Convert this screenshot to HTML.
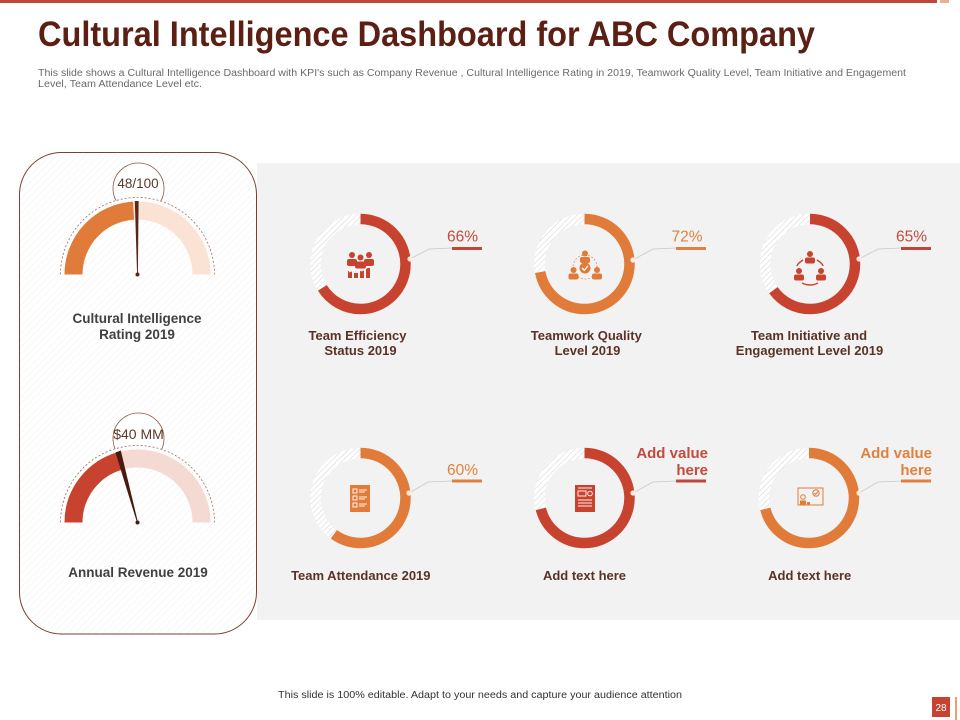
<!DOCTYPE html>
<html><head><meta charset="utf-8"><style>html,body{margin:0;padding:0;background:#fff}svg{display:block}</style></head>
<body>
<svg width="960" height="720" viewBox="0 0 960 720" xmlns="http://www.w3.org/2000/svg" font-family="'Liberation Sans', Arial, sans-serif">
<defs>
<pattern id="h1" width="4" height="4" patternUnits="userSpaceOnUse" patternTransform="rotate(45)"><rect width="4" height="4" fill="#fff"/><line x1="0" y1="0" x2="0" y2="4" stroke="#d2d2d2" stroke-width="1"/></pattern>
<pattern id="h2" width="5" height="5" patternUnits="userSpaceOnUse" patternTransform="rotate(45)"><rect width="5" height="5" fill="#fff"/><line x1="0" y1="0" x2="0" y2="5" stroke="#f1f1f1" stroke-width="1"/></pattern>
</defs>

<!-- top bar -->
<rect x="0" y="0" width="937" height="3" fill="#c0483a"/>
<rect x="940" y="0" width="9" height="3" fill="#eab090"/>

<!-- title -->
<text x="38" y="46" font-size="35" font-weight="bold" fill="#5b1f14" textLength="777" lengthAdjust="spacingAndGlyphs">Cultural Intelligence Dashboard for ABC Company</text>
<text x="38" y="76" font-size="10" fill="#6a6a6a" textLength="868" lengthAdjust="spacingAndGlyphs">This slide shows a Cultural Intelligence Dashboard with KPI's such as Company Revenue , Cultural Intelligence Rating in 2019, Teamwork Quality Level, Team Initiative and Engagement</text>
<text x="38" y="87" font-size="10" fill="#6a6a6a" textLength="164" lengthAdjust="spacingAndGlyphs">Level, Team Attendance Level etc.</text>

<!-- gray panel -->
<rect x="257" y="163" width="703" height="457" fill="#f2f2f2"/>

<!-- left panel -->
<rect x="19.5" y="152.5" width="237" height="481.5" rx="42" ry="42" fill="url(#h2)" stroke="#7a4030" stroke-width="1"/>

<!-- gauge 1 -->
<circle cx="138.5" cy="188.5" r="25.5" fill="#fff" stroke="#8a5a45" stroke-width="0.8"/>
<text x="138" y="188" font-size="13.5" text-anchor="middle" fill="#5a3a2a">48/100</text>
<path d="M60.5 274.5 A77 77 0 0 1 214.5 274.5 Z" fill="url(#h2)"/>
<path d="M60.5 274.5 A77 77 0 0 1 214.5 274.5" fill="none" stroke="#a07060" stroke-width="0.8" stroke-dasharray="2 2"/>
<path d="M73.5 274.5 A64 64 0 0 1 201.5 274.5" fill="none" stroke="#fae2d4" stroke-width="18"/>
<path d="M73.5 274.5 A64 64 0 0 1 133.48 210.63" fill="none" stroke="#e07b39" stroke-width="18"/>
<polygon points="134.8,201 138.6,201 137.9,274.5 137.1,274.5" fill="#5a2618"/>
<circle cx="137.5" cy="274.5" r="2" fill="#5a2618"/>
<text x="137" y="323" font-size="13.5" font-weight="bold" text-anchor="middle" fill="#404040">Cultural Intelligence</text>
<text x="137" y="339" font-size="13.5" font-weight="bold" text-anchor="middle" fill="#404040">Rating 2019</text>

<!-- gauge 2 -->
<circle cx="138.5" cy="438.5" r="25.5" fill="#fff" stroke="#8a5a45" stroke-width="0.8"/>
<text x="138.5" y="439" font-size="14" text-anchor="middle" fill="#5a3a2a">$40 MM</text>
<path d="M60.5 522.5 A77 77 0 0 1 214.5 522.5 Z" fill="url(#h2)"/>
<path d="M60.5 522.5 A77 77 0 0 1 214.5 522.5" fill="none" stroke="#a07060" stroke-width="0.8" stroke-dasharray="2 2"/>
<path d="M73.5 522.5 A64 64 0 0 1 201.5 522.5" fill="none" stroke="#f5dad4" stroke-width="18"/>
<path d="M73.5 522.5 A64 64 0 0 1 120.94 460.68" fill="none" stroke="#c8432f" stroke-width="18"/>
<polygon points="115.5,452.5 120.8,450.5 138,522.5 137,522.5" fill="#4a1a10"/>
<circle cx="137.5" cy="522.5" r="2" fill="#4a1a10"/>
<text x="138" y="577" font-size="13.5" font-weight="bold" text-anchor="middle" fill="#404040">Annual Revenue 2019</text>

<!-- Donut 1 -->
<g>
<circle cx="360.5" cy="264" r="45" fill="none" stroke="url(#h1)" stroke-width="10.5"/>
<circle cx="360.5" cy="264" r="45" fill="none" stroke="#c8432f" stroke-width="10.5" stroke-dasharray="186.6 400" transform="rotate(-90 360.5 264)"/>
<polyline points="410,259 429,249 452,248" fill="none" stroke="#c9c9c9" stroke-width="0.8"/>
<circle cx="410" cy="259" r="2.6" fill="#fbeadf"/>
<rect x="452" y="247" width="30" height="3" fill="#c0483a"/>
<text x="462.5" y="241.7" font-size="15.5" text-anchor="middle" fill="#c44a3c">66%</text>
<g fill="#c8432f">
<circle cx="352" cy="255" r="3"/><circle cx="369" cy="255" r="3"/><circle cx="360.5" cy="257.5" r="3"/>
<rect x="347" y="259" width="10" height="7" rx="2"/><rect x="364" y="259" width="10" height="7" rx="2"/>
<rect x="355" y="261.5" width="11" height="7" rx="2"/>
<rect x="348" y="271" width="4" height="7"/><rect x="354" y="273" width="4" height="5"/><rect x="360" y="270" width="4" height="8"/><rect x="366" y="268" width="4" height="10"/>
</g>
<polyline points="349,272 356,269 362,271 370,266" fill="none" stroke="#fff" stroke-width="1"/>
<text x="357.5" y="340" font-size="13" font-weight="bold" text-anchor="middle" fill="#5a3326">Team Efficiency</text>
<text x="360.5" y="355" font-size="13" font-weight="bold" text-anchor="middle" fill="#5a3326">Status 2019</text>
</g>

<!-- Donut 2 -->
<g>
<circle cx="584.5" cy="264" r="45" fill="none" stroke="url(#h1)" stroke-width="10.5"/>
<circle cx="584.5" cy="264" r="45" fill="none" stroke="#e07b39" stroke-width="10.5" stroke-dasharray="203.6 400" transform="rotate(-90 584.5 264)"/>
<polyline points="633,260 653,249 676,248" fill="none" stroke="#c9c9c9" stroke-width="0.8"/>
<circle cx="633" cy="260" r="2.6" fill="#fbeadf"/>
<rect x="676" y="247" width="30" height="3" fill="#e08040"/>
<text x="687" y="241.7" font-size="15.5" text-anchor="middle" fill="#e0823f">72%</text>
<circle cx="585" cy="267" r="12" fill="none" stroke="#e07b39" stroke-width="0.8" stroke-dasharray="1.5 2"/>
<g fill="#e07b39">
<circle cx="585" cy="253.5" r="3"/><rect x="580" y="257" width="10" height="6" rx="2"/>
<circle cx="573.5" cy="270" r="3"/><rect x="568.5" y="273.5" width="10" height="6" rx="2"/>
<circle cx="597" cy="270" r="3"/><rect x="592" y="273.5" width="10" height="6" rx="2"/>
<circle cx="585" cy="268" r="5.5"/>
</g>
<polyline points="582,268 584.3,270.3 588,265.8" fill="none" stroke="#fff" stroke-width="1.3"/>
<text x="586.3" y="340" font-size="13" font-weight="bold" text-anchor="middle" fill="#5a3326">Teamwork Quality</text>
<text x="587.5" y="355" font-size="13" font-weight="bold" text-anchor="middle" fill="#5a3326">Level 2019</text>
</g>

<!-- Donut 3 -->
<g>
<circle cx="810" cy="264" r="45" fill="none" stroke="url(#h1)" stroke-width="10.5"/>
<circle cx="810" cy="264" r="45" fill="none" stroke="#c8432f" stroke-width="10.5" stroke-dasharray="183.8 400" transform="rotate(-90 810 264)"/>
<polyline points="859,259 878,249 901,248" fill="none" stroke="#c9c9c9" stroke-width="0.8"/>
<circle cx="859" cy="259" r="2.6" fill="#fbeadf"/>
<rect x="901" y="247" width="30" height="3" fill="#c0483a"/>
<text x="911.5" y="241.7" font-size="15.5" text-anchor="middle" fill="#c44a3c">65%</text>
<g fill="#c8432f">
<circle cx="810" cy="254" r="3"/><rect x="805" y="257.5" width="10" height="6" rx="2"/>
<circle cx="799" cy="271" r="3"/><rect x="794" y="274.5" width="10" height="6" rx="2"/>
<circle cx="821" cy="271" r="3"/><rect x="816" y="274.5" width="10" height="6" rx="2"/>
</g>
<path d="M803 260 Q797 264 797 266 M817 260 Q823 264 823 266 M802 283 Q810 287 818 283" fill="none" stroke="#c8432f" stroke-width="1.4"/>
<text x="809" y="340" font-size="13" font-weight="bold" text-anchor="middle" fill="#5a3326">Team Initiative and</text>
<text x="809.5" y="355" font-size="13" font-weight="bold" text-anchor="middle" fill="#5a3326">Engagement Level 2019</text>
</g>

<!-- Donut 4 -->
<g>
<circle cx="360.5" cy="498" r="45" fill="none" stroke="url(#h1)" stroke-width="10.5"/>
<circle cx="360.5" cy="498" r="45" fill="none" stroke="#e07b39" stroke-width="10.5" stroke-dasharray="169.6 400" transform="rotate(-90 360.5 498)"/>
<polyline points="409,493 428,482 452,481" fill="none" stroke="#c9c9c9" stroke-width="0.8"/>
<circle cx="409" cy="493" r="2.6" fill="#fbeadf"/>
<rect x="452" y="479.5" width="30" height="3" fill="#e08040"/>
<text x="462.5" y="475" font-size="15.5" text-anchor="middle" fill="#e0823f">60%</text>
<rect x="350" y="485" width="20" height="27" fill="#e07b39"/>
<g fill="none" stroke="#fff" stroke-width="0.9">
<rect x="353" y="489" width="4" height="4"/><rect x="353" y="496" width="4" height="4"/><rect x="353" y="503" width="4" height="4"/>
<line x1="359" y1="490" x2="367" y2="490"/><line x1="359" y1="492" x2="365" y2="492"/>
<line x1="359" y1="497" x2="367" y2="497"/><line x1="359" y1="499" x2="365" y2="499"/>
<line x1="359" y1="504" x2="367" y2="504"/><line x1="359" y1="506" x2="365" y2="506"/>
</g>
<text x="360.8" y="580" font-size="13" font-weight="bold" text-anchor="middle" fill="#5a3326">Team Attendance 2019</text>
</g>

<!-- Donut 5 -->
<g>
<circle cx="584.5" cy="498" r="45" fill="none" stroke="url(#h1)" stroke-width="10.5"/>
<circle cx="584.5" cy="498" r="45" fill="none" stroke="#c8432f" stroke-width="10.5" stroke-dasharray="200.7 400" transform="rotate(-90 584.5 498)"/>
<polyline points="633,493 653,482 676,481" fill="none" stroke="#c9c9c9" stroke-width="0.8"/>
<circle cx="633" cy="493" r="2.6" fill="#fbeadf"/>
<rect x="676" y="479.5" width="30" height="3" fill="#c0483a"/>
<text x="708" y="458" font-size="15" font-weight="bold" text-anchor="end" fill="#c44a3c">Add value</text>
<text x="708" y="475" font-size="15" font-weight="bold" text-anchor="end" fill="#c44a3c">here</text>
<rect x="575" y="485" width="20" height="27" fill="#c8432f"/>
<g fill="none" stroke="#fff" stroke-width="0.9">
<line x1="578" y1="488" x2="592" y2="488"/>
<rect x="578" y="491" width="8" height="5"/><circle cx="590" cy="493.5" r="2.3"/>
<line x1="578" y1="500" x2="592" y2="500"/><line x1="578" y1="503" x2="592" y2="503"/><line x1="578" y1="506" x2="592" y2="506"/>
</g>
<text x="584.5" y="580" font-size="13" font-weight="bold" text-anchor="middle" fill="#5a3326">Add text here</text>
</g>

<!-- Donut 6 -->
<g>
<circle cx="809" cy="498" r="45" fill="none" stroke="url(#h1)" stroke-width="10.5"/>
<circle cx="809" cy="498" r="45" fill="none" stroke="#e07b39" stroke-width="10.5" stroke-dasharray="200.7 400" transform="rotate(-90 809 498)"/>
<polyline points="859,493 878,482 901,481" fill="none" stroke="#c9c9c9" stroke-width="0.8"/>
<circle cx="859" cy="493" r="2.6" fill="#fbeadf"/>
<rect x="901" y="479.5" width="30" height="3" fill="#e08040"/>
<text x="932" y="458" font-size="15" font-weight="bold" text-anchor="end" fill="#e0823f">Add value</text>
<text x="932" y="475" font-size="15" font-weight="bold" text-anchor="end" fill="#e0823f">here</text>
<g fill="none" stroke="#e07b39" stroke-width="1">
<rect x="798" y="488" width="25" height="17"/>
<circle cx="803" cy="497" r="2.3"/>
<circle cx="816" cy="493" r="3.2"/>
<polyline points="814,493 815.5,494.5 818,491.5"/>
</g>
<g fill="#e07b39">
<rect x="800" y="500.5" width="6" height="5"/><rect x="807" y="502" width="3" height="3.5"/>
</g>
<text x="809.7" y="580" font-size="13" font-weight="bold" text-anchor="middle" fill="#5a3326">Add text here</text>
</g>

<!-- footer -->
<text x="278" y="698" font-size="10" fill="#333" textLength="404" lengthAdjust="spacingAndGlyphs">This slide is 100% editable. Adapt to your needs and capture your audience attention</text>
<rect x="932" y="697" width="18" height="20" fill="#c8432f"/>
<text x="941" y="711" font-size="10" text-anchor="middle" fill="#fff">28</text>
<rect x="955" y="697" width="2" height="23" fill="#e8a070"/>
</svg>
</body></html>
